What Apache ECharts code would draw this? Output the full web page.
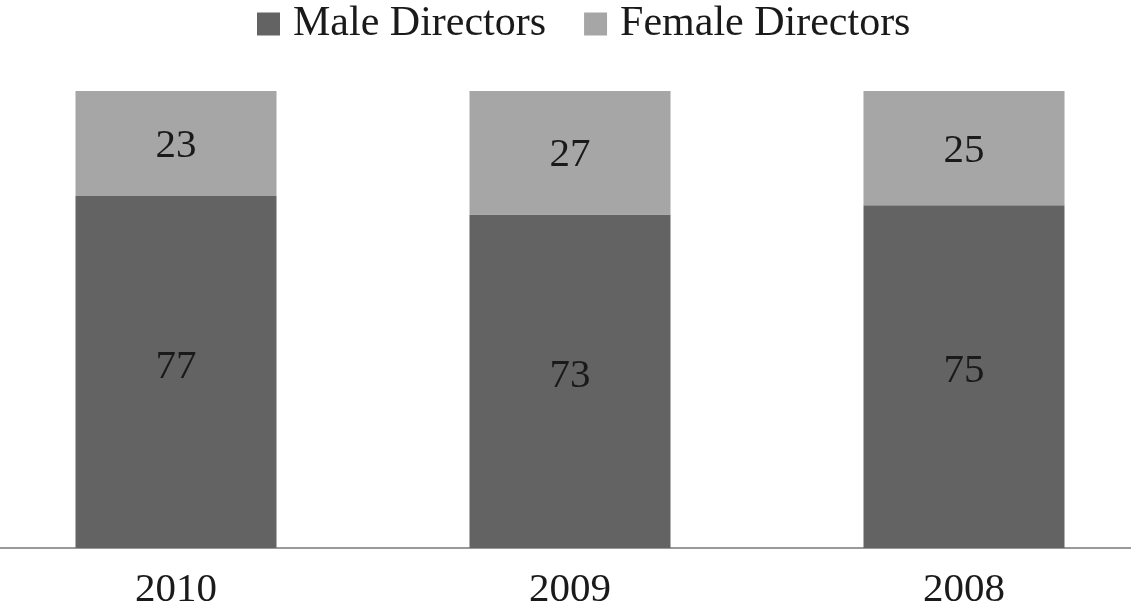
<!DOCTYPE html>
<html><head><meta charset="utf-8">
<script src="https://cdn.jsdelivr.net/npm/echarts@6/dist/echarts.min.js"></script>
<style>html,body{margin:0;padding:0;background:#fff;overflow:hidden;width:1131px;height:613px}#c{width:1182px;height:613px;margin-left:-21px}</style>
</head><body><div id="c"></div>
<script>
var categories = ['2010', '2009', '2008'];
var maleValues = [77, 73, 75];
var femaleValues = [23, 27, 25];
var seriesNames = ['Male Directors', 'Female Directors'];

var font = '"Liberation Serif", "Times New Roman", serif';
var chart = echarts.init(document.getElementById('c'));
chart.setOption({
  animation: false,
  legend: {
    top: -2, left: 273,
    itemWidth: 23, itemHeight: 23, itemGap: 38,
    icon: 'rect',
    textStyle: {fontFamily: font, fontSize: 42, color: '#1a1a1a', padding: [0,0,0,8]},
    data: seriesNames
  },
  grid: {left: 0, right: 0, top: 91, bottom: 65, containLabel: false},
  xAxis: {
    type: 'category', data: categories,
    axisLine: {lineStyle: {color: '#999', width: 2}},
    axisTick: {show: false},
    axisLabel: {fontFamily: font, fontSize: 41, color: '#1a1a1a', margin: 22}
  },
  yAxis: {type: 'value', min: 0, max: 100, show: false, splitLine: {show: false}},
  series: [
    {name: seriesNames[0], type: 'bar', stack: 's', data: maleValues, barWidth: 201,
     itemStyle: {color: '#636363'},
     label: {show: true, position: 'inside', offset: [0, -5], fontFamily: font, fontSize: 41, color: '#1a1a1a'}},
    {name: seriesNames[1], type: 'bar', stack: 's', data: femaleValues, barWidth: 201,
     itemStyle: {color: '#a6a6a6'},
     label: {show: true, position: 'inside', offset: [0, 3], fontFamily: font, fontSize: 41, color: '#1a1a1a'}}
  ]
});
</script></body></html>
